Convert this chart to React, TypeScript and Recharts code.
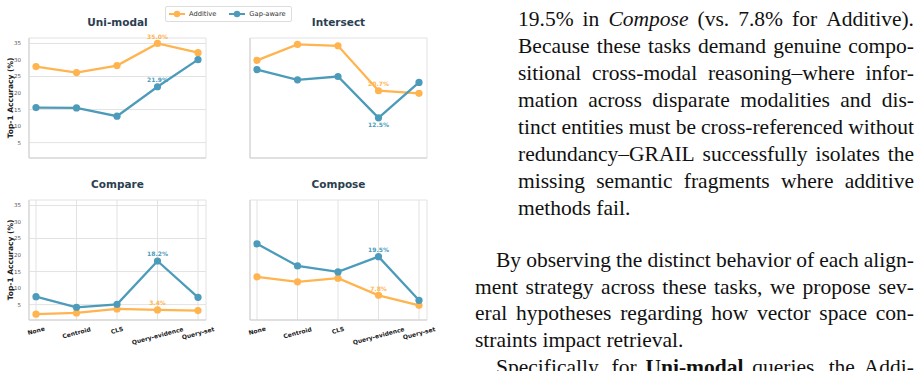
import React from 'react';
import { LineChart, Line, XAxis, YAxis, CartesianGrid, LabelList } from 'recharts';

// alignment strategies on the x axis
const strategies = ['None', 'Centroid', 'CLS', 'Query-evidence', 'Query-set'];
const yTicks = [5, 10, 15, 20, 25, 30, 35];

// Top-1 accuracy (%) per task
const uniAdditive = [28.0, 26.2, 28.3, 35.0, 32.2];
const uniGapAware = [15.6, 15.5, 13.0, 21.9, 30.1];
const intersectAdditive = [29.9, 34.7, 34.3, 20.7, 19.9];
const intersectGapAware = [27.1, 24.0, 25.0, 12.5, 23.2];
const compareAdditive = [2.1, 2.5, 3.7, 3.4, 3.2];
const compareGapAware = [7.4, 4.2, 5.1, 18.2, 7.2];
const composeAdditive = [13.4, 11.9, 13.0, 7.8, 4.8];
const composeGapAware = [23.4, 16.7, 14.9, 19.5, 6.3];

// paragraph lines (*italic*, **bold**)
const block1Lines = [
  '19.5% in *Compose* (vs. 7.8% for Additive).',
  'Because these tasks demand genuine compo-',
  'sitional cross-modal reasoning–where infor-',
  'mation across disparate modalities and dis-',
  'tinct entities must be cross-referenced without',
  'redundancy–GRAIL successfully isolates the',
  'missing semantic fragments where additive',
  'methods fail.',
];
const block2Lines = [
  'By observing the distinct behavior of each align-',
  'ment strategy across these tasks, we propose sev-',
  'eral hypotheses regarding how vector space con-',
  'straints impact retrieval.',
  'Specifically, for **Uni-modal** queries, the Addi-',
];

const ADDITIVE = '#FFB44F';
const GAP = '#4C9BBA';
const FONT = '"DejaVu Sans", sans-serif';
const HIGHLIGHT = 3; // Query-evidence

const PLOT_TOP = 38;
const PLOT_H = 120;

const makeRows = (add: number[], gap: number[]) =>
  strategies.map((s, i) => ({ name: s, additive: add[i], gap: gap[i] }));

const valueLabel = (color: string, below: boolean) => (props: any) => {
  const vb = props.viewBox || {};
  const x = props.x ?? vb.x;
  const y = props.y ?? vb.y;
  if (props.index !== HIGHLIGHT || x == null || y == null) return null;
  return (
    <text
      x={x}
      y={below ? y + 7 : y - 7}
      fill={color}
      fontSize={6}
      fontWeight="bold"
      fontFamily={FONT}
      textAnchor="middle"
      dominantBaseline="central"
    >
      {Number(props.value).toFixed(1)}%
    </text>
  );
};

// rotated category labels, box top sits 5px under the axis
const StrategyTick = (props: any) => {
  const { x, payload } = props;
  const label = String(payload.value);
  const w = label.length * 6 * 0.64;
  const cy = PLOT_TOP + PLOT_H + 5 + (w * 0.259 + 6.8) / 2;
  return (
    <text
      x={x}
      y={cy}
      transform={`rotate(-15, ${x}, ${cy})`}
      textAnchor="middle"
      dominantBaseline="central"
      fontSize={6}
      fontWeight="bold"
      fill="#222"
      fontFamily={FONT}
    >
      {label}
    </text>
  );
};

const yLabel = () => (
  <text
    transform={`translate(10, ${PLOT_TOP + PLOT_H / 2}) rotate(-90)`}
    textAnchor="middle"
    dominantBaseline="central"
    fontSize={7.5}
    fontWeight="bold"
    fill="#222"
    fontFamily={FONT}
  >
    Top-1 Accuracy (%)
  </text>
);

interface PanelProps {
  title: string;
  additive: number[];
  gap: number[];
  left: number;
  top: number;
  showY: boolean;
  showX: boolean;
  gapBelow?: boolean;
}

const Panel: React.FC<PanelProps> = ({ title, additive, gap, left, top, showY, showX, gapBelow }) => {
  const xAxisH = showX ? 51 : 12;
  const height = PLOT_TOP + PLOT_H + xAxisH;
  return (
    <div style={{ position: 'absolute', left, top, width: 215, height }}>
      <div
        style={{
          position: 'absolute',
          left: 29,
          top: 16,
          width: 177,
          textAlign: 'center',
          fontFamily: FONT,
          fontWeight: 'bold',
          fontSize: 10.5,
          lineHeight: '12px',
          color: '#2c3e50',
        }}
      >
        {title}
      </div>
      <LineChart
        width={215}
        height={height}
        data={makeRows(additive, gap)}
        margin={{ top: PLOT_TOP, right: 9, bottom: 0, left: 0 }}
      >
        <CartesianGrid stroke="#e2e2e2" strokeWidth={1} />
        <XAxis
          dataKey="name"
          padding={{ left: 7, right: 8 }}
          axisLine={{ stroke: '#cfcfcf' }}
          tickLine={false}
          height={xAxisH}
          interval={0}
          tick={showX ? <StrategyTick /> : false}
        />
        <YAxis
          type="number"
          width={29}
          domain={[0.35, 36.65]}
          ticks={yTicks}
          allowDataOverflow
          axisLine={{ stroke: '#cfcfcf' }}
          tickLine={false}
          tick={showY ? { fontSize: 5.5, fill: '#555', fontFamily: FONT } : false}
          label={showY ? { content: yLabel } : undefined}
        />
        <Line
          type="linear"
          dataKey="additive"
          name="Additive"
          stroke={ADDITIVE}
          strokeWidth={2.3}
          dot={{ r: 3.6, fill: ADDITIVE, stroke: ADDITIVE, strokeWidth: 0 }}
          isAnimationActive={false}
        >
          <LabelList dataKey="additive" content={valueLabel(ADDITIVE, false)} />
        </Line>
        <Line
          type="linear"
          dataKey="gap"
          name="Gap-aware"
          stroke={GAP}
          strokeWidth={2.3}
          dot={{ r: 3.6, fill: GAP, stroke: GAP, strokeWidth: 0 }}
          isAnimationActive={false}
        >
          <LabelList dataKey="gap" content={valueLabel(GAP, !!gapBelow)} />
        </Line>
      </LineChart>
    </div>
  );
};

const LegendIcon: React.FC<{ color: string }> = ({ color }) => (
  <svg width={16} height={8} style={{ display: 'block' }}>
    <line x1={0} y1={4} x2={16} y2={4} stroke={color} strokeWidth={2} />
    <circle cx={8} cy={4} r={3.2} fill={color} />
  </svg>
);

const SeriesLegend = () => (
  <div
    style={{
      position: 'absolute',
      left: 165,
      top: 6,
      width: 125,
      height: 14,
      border: '1px solid #dddddd',
      borderRadius: 2,
      background: '#fff',
      display: 'flex',
      alignItems: 'center',
      fontFamily: FONT,
      fontSize: 6.7,
      color: '#333',
    }}
  >
    <div style={{ marginLeft: 3 }}><LegendIcon color={ADDITIVE} /></div>
    <span style={{ marginLeft: 4 }}>Additive</span>
    <div style={{ marginLeft: 13 }}><LegendIcon color={GAP} /></div>
    <span style={{ marginLeft: 4 }}>Gap-aware</span>
  </div>
);

// one justified text line: words spread across the full width
const renderWord = (w: string, i: number) => {
  if (w.startsWith('**')) return <b key={i}>{w.replace(/\*\*/g, '')}</b>;
  if (w.startsWith('*')) return <i key={i}>{w.replace(/\*/g, '')}</i>;
  return <span key={i}>{w}</span>;
};

const TextLine: React.FC<{ text: string; justify: boolean; indent: number; lh: number }> = ({ text, justify, indent, lh }) => {
  const words = text.split(' ');
  return (
    <div
      style={{
        height: lh,
        lineHeight: `${lh}px`,
        whiteSpace: 'nowrap',
        paddingLeft: indent,
        display: 'flex',
        justifyContent: justify ? 'space-between' : 'flex-start',
        gap: justify ? 0 : '0.25em',
      }}
    >
      {words.map(renderWord)}
    </div>
  );
};

interface ParagraphProps {
  lines: string[];
  left: number;
  top: number;
  width: number;
  indentFirst: number;
  lastJustified: boolean;
  lh: number;
}

const Paragraph: React.FC<ParagraphProps> = ({ lines, left, top, width, indentFirst, lastJustified, lh }) => (
  <div
    style={{
      position: 'absolute',
      left,
      top,
      width,
      fontFamily: '"Liberation Serif", serif',
      fontSize: 21.5,
      color: '#111',
    }}
  >
    {lines.map((l, i) => {
      const paraEnd = l.endsWith('.') && !l.endsWith('Additive).');
      return (
        <TextLine
          key={i}
          text={l}
          lh={lh}
          indent={i === 0 || l.startsWith('Specifically') ? indentFirst : 0}
          justify={!paraEnd && (i < lines.length - 1 || lastJustified)}
        />
      );
    })}
  </div>
);

const App: React.FC = () => (
  <div
    style={{
      position: 'absolute',
      left: 0,
      top: 0,
      width: 920,
      height: 371,
      overflow: 'hidden',
      background: '#fff',
    }}
  >
    <Panel title="Uni-modal" additive={uniAdditive} gap={uniGapAware} left={0} top={0} showY showX={false} />
    <Panel title="Intersect" additive={intersectAdditive} gap={intersectGapAware} left={221} top={0} showY={false} showX={false} gapBelow />
    <Panel title="Compare" additive={compareAdditive} gap={compareGapAware} left={0} top={162} showY showX />
    <Panel title="Compose" additive={composeAdditive} gap={composeGapAware} left={221} top={162} showY={false} showX />
    <SeriesLegend />
    <Paragraph lines={block1Lines} left={518} top={6} width={396} indentFirst={0} lastJustified={false} lh={27} />
    <Paragraph lines={block2Lines} left={475} top={247} width={439} indentFirst={21} lastJustified lh={26.7} />
  </div>
);

export default App;
